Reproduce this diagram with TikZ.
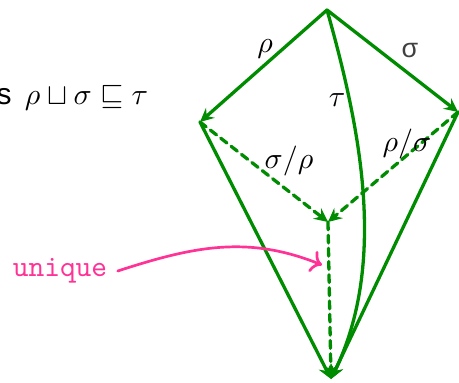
\documentclass[tikz,border=0pt]{standalone}
\usepackage{fontspec}
\usetikzlibrary{arrows.meta}
\newfontfamily\sansgr{Liberation Sans}
\definecolor{leaf}{RGB}{0,140,0}
\definecolor{hotpink}{RGB}{255,50,150}
\tikzset{
	edge/.style={draw=leaf, line width=1.1pt, -{Stealth[length=4.6pt,width=4.4pt,inset=1.6pt]}},
	dashedge/.style={edge, dash pattern=on 2.6pt off 1.8pt},
}
\begin{document}
\begin{tikzpicture}[x=0.334pt, y=0.334pt, font=\normalsize, line join=round, line cap=round]
	\useasboundingbox (0,0) rectangle (459,382);
	% vertices
	\coordinate (top) at (327,372);
	\coordinate (left) at (200,260);
	\coordinate (right) at (458,270);
	\coordinate (mid) at (328,160);
	\coordinate (bot) at (331,3);
	% edges
	\draw[edge] (top) -- (left);
	\draw[edge] (top) -- (right);
	\draw[edge] (top) .. controls (360,255) and (388,120) .. (bot);
	\draw[edge] (left) -- (bot);
	\draw[edge] (right) -- (bot);
	\draw[dashedge] (left) -- (mid);
	\draw[dashedge] (right) -- (mid);
	\draw[dashedge] (mid) -- (bot);
	% labels
	\node (rho) at (265,333) {$\rho$};
	\node[text=black!75, font=\small] (sig) at (410,331) {\sansgr σ};
	\node (tau) at (337,282) {$\tau$};
	\node (sigrho) at (289,221) {$\sigma/\rho$};
	\node (rhosig) at (407,238) {$\rho/\sigma$};
	\node[anchor=base west, inner sep=0pt] (claim) at (-4,277) {\sansgr s\ \,$\rho\sqcup\sigma\sqsubseteq\tau$};
	% note
	\node[text=hotpink, font=\ttfamily] (uniq) at (60,111) {unique};
	\coordinate (uniqtip) at (322,117);
	\draw[hotpink, line width=0.9pt, ->] (uniq.east) to[out=18,in=158] (uniqtip);
\end{tikzpicture}
\end{document}
